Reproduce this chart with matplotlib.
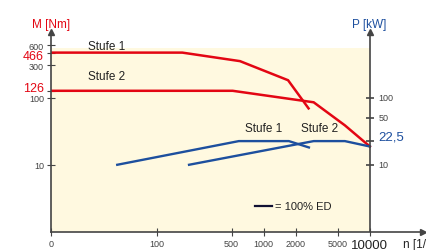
import numpy as np
import matplotlib
matplotlib.use("Agg")
import matplotlib.pyplot as plt

# torque curves M [Nm] over speed n [1/min]
m1_n = [10, 172, 600, 1700, 2650]
m1_v = [466, 466, 348, 181, 69]
m2_n = [10, 512, 2960, 5820, 10000]
m2_v = [126, 126, 85, 38.6, 18.7]

# power curves P [kW] over speed n [1/min]
p1_n = [42, 585, 1730, 2670]
p1_v = [10, 22.5, 22.5, 18.1]
p2_n = [199, 2960, 5820, 10000]
p2_v = [10, 22.5, 22.5, 18.7]

x_ticks = [10, 100, 500, 1000, 2000, 5000, 10000]
x_labels = ['0', '100', '500', '1000', '2000', '5000', '10000']
m_ticks = [10, 100, 300, 600]
m_marked = [126, 466]
p_ticks = [10, 22.5, 50, 100]
p_labels = ['10', '22,5', '50', '100']

RED = '#e30613'
BLUE = '#1d4f9e'
GREY = '#444444'
TXT = '#222222'
plt.rcParams['font.family'] = ['Liberation Sans Narrow', 'Liberation Sans', 'DejaVu Sans']

fig = plt.figure(figsize=(4.27, 2.51), dpi=100)
ax = fig.add_axes([51/427, 18/251, (423-51)/427, (233-33)/251])
ax.set_xscale('log')
ax.set_yscale('log')
ax.set_xlim(10, 10**4.5)
ax.set_ylim(1, 10**2.975)

ax.fill_between([10, 10000], 1, 540, color='#fff9e0', lw=0, zorder=0)

ax.plot(m1_n, m1_v, color=RED, lw=1.8, solid_joinstyle='miter')
ax.plot(m2_n, m2_v, color=RED, lw=1.8, solid_joinstyle='miter')
ax.plot(p1_n, p1_v, color=BLUE, lw=1.7)
ax.plot(p2_n, p2_v, color=BLUE, lw=1.7)

for s in ['top', 'right']:
    ax.spines[s].set_visible(False)
for s in ['left', 'bottom']:
    ax.spines[s].set_color(GREY)
    ax.spines[s].set_linewidth(1.2)

# arrow heads on the axes, right power axis at n = 10000
ax.plot(1, 0, '>', color=GREY, ms=4, transform=ax.transAxes, clip_on=False)
ax.plot(0, 1, '^', color=GREY, ms=4, transform=ax.transAxes, clip_on=False)
ax.plot([10000, 10000], [1, 10**2.96], color=GREY, lw=1.2)
ax.plot(10000, 10**2.975, '^', color=GREY, ms=4, clip_on=False)

ax.set_xticks(x_ticks)
ax.set_xticklabels(x_labels)
ax.xaxis.set_minor_locator(plt.NullLocator())
ax.tick_params(axis='x', direction='inout', length=6, colors=GREY, labelsize=6.5,
               pad=2, labelcolor=GREY)
ax.get_xticklabels()[-1].set_fontsize(9.5)
ax.get_xticklabels()[-1].set_color(TXT)

ax.set_yticks(m_ticks + m_marked)
ax.set_yticklabels([str(v) for v in m_ticks] + ['', ''])
ax.yaxis.set_minor_locator(plt.NullLocator())
ax.tick_params(axis='y', direction='inout', length=6, colors=GREY, labelsize=6.5, pad=2)
for v, dy in zip(m_marked, [2, -2.5]):
    ax.annotate(str(v), xy=(0, v), xycoords=('axes fraction', 'data'),
                xytext=(-5, dy), textcoords='offset points',
                ha='right', va='center', color=RED, fontsize=9)

# right axis ticks for P
for v, t in zip(p_ticks, p_labels):
    ax.plot(10000, v, marker='_', color=GREY, ms=6, mew=1.2, clip_on=False)
    if v == 22.5:
        ax.annotate(t, xy=(10000, v), xytext=(6, 3), textcoords='offset points',
                    color=BLUE, fontsize=9.5, va='center')
    else:
        ax.annotate(t, xy=(10000, v), xytext=(6, 0), textcoords='offset points',
                    color=GREY, fontsize=6.5, va='center')

fig.text(51/427, 1 - 25/251, 'M [Nm]', color=RED, fontsize=8.5, ha='center', va='center')
fig.text(369/427, 1 - 25/251, 'P [kW]', color=BLUE, fontsize=8.5, ha='center', va='center')
fig.text(403/427, 1 - 245/251, 'n [1/min]', color=TXT, fontsize=8.5, ha='left', va='center')

ax.text(22.5, 583, 'Stufe 1', fontsize=8.5, color=TXT, va='center')
ax.text(22.5, 208, 'Stufe 2', fontsize=8.5, color=TXT, va='center')
ax.text(670, 34.8, 'Stufe 1', fontsize=8.5, color=TXT, va='center')
ax.text(2250, 34.8, 'Stufe 2', fontsize=8.5, color=TXT, va='center')

ax.plot([830, 1200], [2.45, 2.45], color='#111133', lw=1.6)
ax.text(1270, 2.45, '= 100% ED', fontsize=8, color=TXT, va='center')

fig.savefig('out.png', dpi=100)
